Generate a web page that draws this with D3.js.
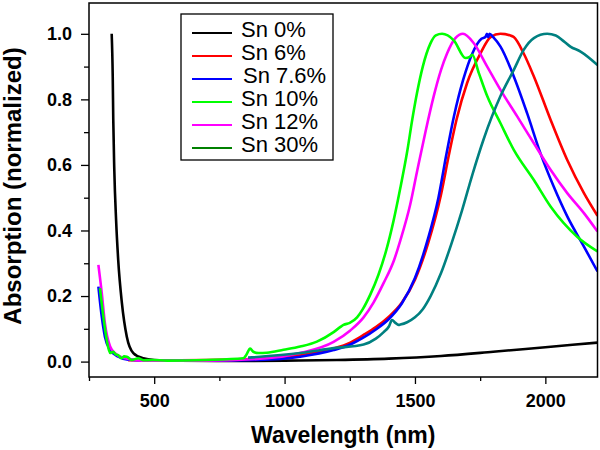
<!DOCTYPE html>
<html><head><meta charset="utf-8">
<script src="https://cdn.jsdelivr.net/npm/d3@7"></script>
<style>body{margin:0;background:#fff}svg{display:block}</style>
</head><body>
<svg id="c" width="600" height="450"></svg>
<script>
const seriesNames = ["Sn 0%","Sn 6%","Sn 7.6%","Sn 10%","Sn 12%","Sn 30%"];
const lineColors = ["#000000","#ff0000","#0000ff","#00ff00","#ff00ff","#008080"];
const legendColors = ["#000000","#ff0000","#0000ff","#00ff00","#ff00ff","#008000"];
const xTicks = [500,1000,1500,2000];
const xMinor = [250,750,1250,1750];
const yTicks = [0,0.2,0.4,0.6,0.8,1.0];
const yMinor = [0.1,0.3,0.5,0.7,0.9];

const sn0 = [[337,1.0],[341,0.87],[343,0.74],[347,0.585],[354,0.43],[362,0.31],[376,0.18],[395,0.076],[420,0.026],[458,0.01],[500,0.005],[600,0.003],[800,0.002],[1000,0.003],[1200,0.005],[1400,0.009],[1600,0.017],[1800,0.03],[2000,0.044],[2200,0.058]];
const sn6 = [[400,0.004],[600,0.004],[800,0.006],[1000,0.015],[1100,0.025],[1188,0.04],[1252,0.058],[1300,0.08],[1350,0.105],[1400,0.137],[1450,0.18],[1500,0.25],[1550,0.36],[1600,0.51],[1630,0.63],[1660,0.74],[1700,0.85],[1751,0.94],[1790,0.99],[1828,1.0],[1866,0.995],[1879,0.99],[1917,0.94],[1956,0.87],[2020,0.738],[2084,0.615],[2148,0.514],[2200,0.445]];
const sn76 = [[286,0.229],[299,0.137],[311,0.076],[331,0.036],[362,0.015],[400,0.006],[500,0.003],[700,0.003],[900,0.005],[1060,0.015],[1188,0.035],[1252,0.052],[1300,0.072],[1350,0.098],[1400,0.13],[1450,0.178],[1500,0.255],[1550,0.375],[1590,0.5],[1620,0.63],[1650,0.75],[1685,0.86],[1720,0.94],[1755,0.985],[1770,0.99],[1776,1.0],[1781,0.99],[1786,1.0],[1800,0.99],[1828,0.961],[1879,0.87],[1930,0.758],[1981,0.636],[2032,0.534],[2084,0.443],[2148,0.351],[2200,0.275]];
const sn10 = [[292,0.224],[305,0.137],[318,0.066],[331,0.026],[343,0.03],[352,0.022],[362,0.02],[375,0.01],[385,0.016],[395,0.015],[414,0.005],[439,0.01],[460,0.004],[491,0.005],[550,0.003],[700,0.005],[842,0.01],[853,0.02],[868,0.04],[880,0.03],[900,0.026],[932,0.027],[996,0.036],[1060,0.046],[1124,0.061],[1188,0.09],[1213,0.105],[1226,0.112],[1250,0.118],[1278,0.135],[1300,0.16],[1329,0.205],[1360,0.265],[1390,0.34],[1418,0.43],[1444,0.53],[1470,0.64],[1490,0.74],[1508,0.82],[1530,0.9],[1559,0.97],[1580,0.995],[1604,1.0],[1649,0.98],[1694,0.926],[1710,0.93],[1720,0.936],[1745,0.88],[1777,0.81],[1828,0.727],[1879,0.646],[1956,0.554],[2020,0.473],[2122,0.381],[2200,0.336]];
const sn12 = [[286,0.295],[299,0.209],[311,0.117],[331,0.046],[350,0.026],[388,0.01],[450,0.003],[700,0.003],[932,0.01],[1060,0.026],[1188,0.06],[1252,0.095],[1303,0.135],[1341,0.18],[1380,0.24],[1420,0.31],[1444,0.37],[1482,0.48],[1508,0.58],[1540,0.7],[1572,0.81],[1600,0.89],[1623,0.94],[1655,0.987],[1684,1.0],[1725,0.972],[1777,0.9],[1828,0.829],[1892,0.748],[1956,0.666],[2020,0.585],[2084,0.514],[2148,0.453],[2200,0.397]];
const sn30 = [[860,0.012],[1060,0.026],[1188,0.041],[1303,0.052],[1350,0.07],[1380,0.09],[1400,0.107],[1412,0.127],[1425,0.118],[1437,0.112],[1444,0.113],[1470,0.12],[1500,0.135],[1530,0.16],[1560,0.2],[1600,0.27],[1640,0.36],[1680,0.46],[1720,0.57],[1764,0.68],[1828,0.81],[1879,0.89],[1917,0.951],[1956,0.987],[2007,1.0],[2040,0.995],[2071,0.977],[2096,0.961],[2135,0.946],[2200,0.905]];
const seriesData = [sn0, sn6, sn76, sn10, sn12, sn30];
const drawOrder = [0,1,2,4,3,5];

const L=89, R=597.5, T=3, B=377;
const svg = d3.select("#c");
const font = "Arial, 'Liberation Sans', sans-serif";
const x = d3.scaleLinear().domain([250,2200]).range([L,R]);
const y = d3.scaleLinear().domain([-0.047,1.094]).range([B,T]);

svg.append("clipPath").attr("id","pc").append("rect").attr("x",L).attr("y",T).attr("width",R-L).attr("height",B-T);
const line = d3.line().x(d=>x(d[0])).y(d=>y(d[1])).curve(d3.curveMonotoneX);
const g = svg.append("g").attr("clip-path","url(#pc)");
drawOrder.forEach(i=>{
  g.append("path").attr("d",line(seriesData[i])).attr("fill","none")
   .attr("stroke",lineColors[i]).attr("stroke-width",2.6).attr("stroke-linejoin","round");
});

svg.append("rect").attr("x",L).attr("y",T).attr("width",R-L).attr("height",B-T)
  .attr("fill","none").attr("stroke","#000").attr("stroke-width",1.5);

function styleAxis(sel){
  sel.select(".domain").remove();
  sel.selectAll("line").attr("stroke","#000").attr("stroke-width",1.3);
  sel.selectAll("text").attr("font-family",font).attr("font-weight","bold").attr("font-size",18).attr("fill","#000");
}
svg.append("g").attr("transform",`translate(0,${B})`)
  .call(d3.axisBottom(x).tickValues(xTicks).tickSize(7).tickPadding(10).tickFormat(d3.format("d"))).call(styleAxis);
svg.append("g").attr("transform",`translate(0,${B})`)
  .call(d3.axisBottom(x).tickValues(xMinor).tickSize(4).tickFormat("")).call(styleAxis);
svg.append("g").attr("transform",`translate(${L},0)`)
  .call(d3.axisLeft(y).tickValues(yTicks).tickSize(8).tickPadding(9).tickFormat(d3.format(".1f"))).call(styleAxis);
svg.append("g").attr("transform",`translate(${L},0)`)
  .call(d3.axisLeft(y).tickValues(yMinor).tickSize(5).tickFormat("")).call(styleAxis);

svg.append("text").attr("x",(L+R)/2).attr("y",443).attr("text-anchor","middle")
  .attr("font-family",font).attr("font-weight","bold").attr("font-size",23).text("Wavelength (nm)");
svg.append("text").attr("transform","translate(21,186) rotate(-90)").attr("text-anchor","middle")
  .attr("font-family",font).attr("font-weight","bold").attr("font-size",24).text("Absorption (normalized)");

const lg = svg.append("g");
lg.append("rect").attr("x",181).attr("y",14).attr("width",152).attr("height",146)
  .attr("fill","#fff").attr("stroke","#000").attr("stroke-width",1.3);
seriesNames.forEach((n,i)=>{
  const yy = 33 + i*23;
  lg.append("line").attr("x1",192).attr("x2",232).attr("y1",yy).attr("y2",yy)
    .attr("stroke",legendColors[i]).attr("stroke-width",2);
  lg.append("text").attr("x",i===2?243:241).attr("y",yy+4).attr("font-family",font)
    .attr("font-size",22).attr("fill","#000").text(n);
});
</script>
</body></html>
